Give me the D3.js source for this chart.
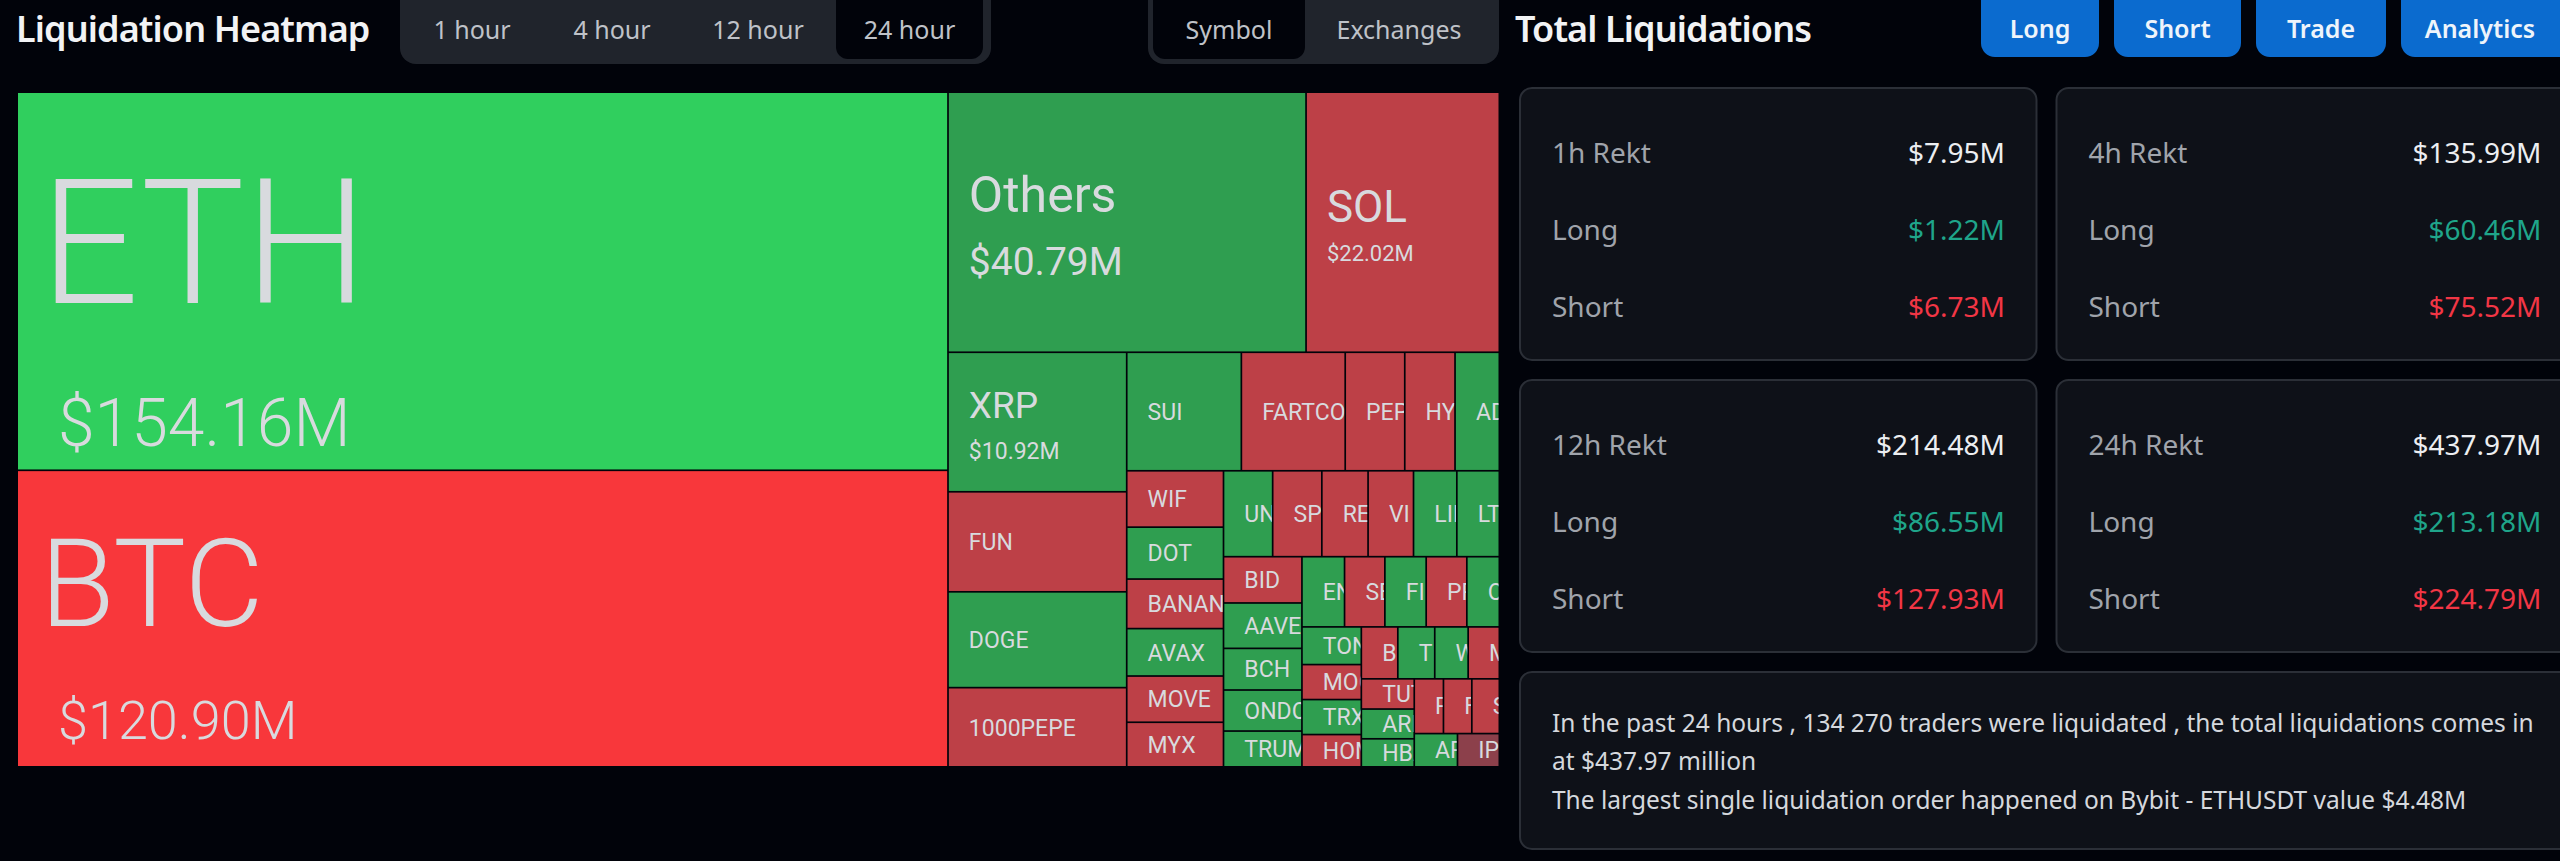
<!DOCTYPE html>
<html>
<head>
<meta charset="utf-8">
<title>Liquidation Heatmap</title>
<script src="https://cdn.jsdelivr.net/npm/d3@7"></script>
<style>
    html, body { margin: 0; background: #01030a; overflow: hidden; }
    svg { display: block; }
    text { font-family: "Noto Sans", sans-serif; }
    .cell-label { font-family: Roboto, sans-serif; fill: #d8dade; }
</style>
</head>
<body>
<svg id="page" width="2560" height="861"></svg>
<script>
// Each strip is carved off what is left of the treemap, alternating left column / top row
const symbolStrips = [
    ['ETH', 'BTC'],
    ['Others', 'SOL'],
    ['XRP', 'FUN', 'DOGE', '1000PEPE'],
    ['SUI', 'FARTCO', 'PEP', 'HY', 'AD'],
    ['WIF', 'DOT', 'BANANA', 'AVAX', 'MOVE', 'MYX'],
    ['UN', 'SP', 'RE', 'VI', 'LIN', 'LT'],
    ['BID', 'AAVE', 'BCH', 'ONDO', 'TRUMP'],
    ['ENA', 'SEI', 'FI', 'PRI', 'OP'],
    ['TON', 'MOG', 'TRX', 'HOM'],
    ['B', 'TI', 'WL', 'ME'],
    ['TUT', 'ARI', 'HBA'],
    ['P', 'F', 'S'],
    ['AP', 'IP']
];
const valueStrips = [
    [154.16, 120.90],
    [40.79, 22.02],
    [10.92, 7.83, 7.50, 6.20],
    [5.95, 5.39, 3.09, 2.61, 2.30],
    [2.39, 2.20, 2.10, 2.01, 1.96, 1.89],
    [1.85, 1.85, 1.74, 1.71, 1.63, 1.60],
    [1.59, 1.56, 1.43, 1.41, 1.23],
    [1.31, 1.24, 1.27, 1.25, 1.00],
    [0.98, 0.91, 0.91, 0.84],
    [0.83, 0.84, 0.76, 0.71],
    [0.70, 0.69, 0.65],
    [0.70, 0.68, 0.66],
    [0.63, 0.61]
];
const stripIsColumn = [true, false, true, false, true, false, true, false, true, false, true, false, false];

const longHeavy = ['ETH', 'Others', 'XRP', 'DOGE', 'SUI', 'AD', 'DOT', 'AVAX', 'UN', 'LIN', 'LT',
    'AAVE', 'BCH', 'ONDO', 'TRUMP', 'ENA', 'FI', 'OP', 'TON', 'TRX', 'TI', 'WL', 'ARI', 'HBA', 'AP'];
const balanced = ['IP'];

const timeframes = ['1 hour', '4 hour', '12 hour', '24 hour'];
const viewModes = ['Symbol', 'Exchanges'];
const actions = ['Long', 'Short', 'Trade', 'Analytics'];

const rektLabels = ['1h Rekt', '4h Rekt', '12h Rekt', '24h Rekt'];
const rektTotals = ['$7.95M', '$135.99M', '$214.48M', '$437.97M'];
const rektLongs = ['$1.22M', '$60.46M', '$86.55M', '$213.18M'];
const rektShorts = ['$6.73M', '$75.52M', '$127.93M', '$224.79M'];

const summaryLines = [
    'In the past 24 hours , 134 270 traders were liquidated , the total liquidations comes in',
    'at $437.97 million',
    'The largest single liquidation order happened on Bybit - ETHUSDT value $4.48M'
];

// Big cells carry their amount as well, offsets are from the cell centre
const bigLabels = {
    ETH: { size: 174, dy: -41, amountSize: 66, amountDy: 141, dx: 22, amountDx: 40 },
    BTC: { size: 122, dy: -36, amountSize: 54, amountDy: 101, dx: 22, amountDx: 40 },
    Others: { size: 50, dy: -28, amountSize: 39, amountDy: 39, dx: 20, amountDx: 20 },
    SOL: { size: 44, dy: -16, amountSize: 22, amountDy: 31, dx: 20, amountDx: 20 },
    XRP: { size: 37, dy: -17, amountSize: 23, amountDy: 29, dx: 20, amountDx: 20 }
};

const colors = {
    ethGreen: '#30cf5e',
    btcRed: '#f8373b',
    green: '#2f9e50',
    red: '#bd4047',
    muted: '#8c404b',
    panel: '#20242c',
    tabActive: '#01030a',
    card: '#0e1118',
    cardBorder: '#2b2f37',
    button: '#0b6bcf',
    grey: '#a0a4ab',
    long: '#1fa58a',
    short: '#f23645'
};

const svg = d3.select('#page');

// Treemap
const treemapBox = { x: 18, y: 93, width: 1480.5, height: 673 };

function buildTree(index) {
    const strip = {
        isColumn: stripIsColumn[index],
        isStrip: true,
        children: symbolStrips[index].map((name, i) => ({ name: name, value: valueStrips[index][i] }))
    };
    if (index === symbolStrips.length - 1) return strip;
    return { isColumn: stripIsColumn[index], children: [strip, buildTree(index + 1)] };
}

function tile(node, x0, y0, x1, y1) {
    // a strip stacks its cells along its length, a split lays strip and rest across
    const useDice = node.data.isStrip ? !node.data.isColumn : node.data.isColumn;
    (useDice ? d3.treemapDice : d3.treemapSlice)(node, x0, y0, x1, y1);
}

const root = d3.hierarchy(buildTree(0)).sum(d => d.value || 0);
d3.treemap()
    .size([treemapBox.width, treemapBox.height])
    .paddingInner(1.7)
    .round(false)
    .tile(tile)(root);

function cellColor(name) {
    if (name === 'ETH') return colors.ethGreen;
    if (name === 'BTC') return colors.btcRed;
    if (balanced.includes(name)) return colors.muted;
    return longHeavy.includes(name) ? colors.green : colors.red;
}

const treemapGroup = svg.append('g')
    .attr('transform', `translate(${treemapBox.x},${treemapBox.y})`);

const cells = treemapGroup.selectAll('g.cell')
    .data(root.leaves())
    .join('g')
    .attr('class', 'cell')
    .attr('transform', d => `translate(${d.x0},${d.y0})`);

cells.append('clipPath')
    .attr('id', (d, i) => `cell-clip-${i}`)
    .append('rect')
    .attr('width', d => d.x1 - d.x0)
    .attr('height', d => d.y1 - d.y0);

cells.append('rect')
    .attr('width', d => d.x1 - d.x0)
    .attr('height', d => d.y1 - d.y0)
    .attr('fill', d => cellColor(d.data.name));

cells.each(function(d, i) {
    const cell = d3.select(this).append('g').attr('clip-path', `url(#cell-clip-${i})`);
    const big = bigLabels[d.data.name];
    const centerY = (d.y1 - d.y0) / 2;
    cell.append('text')
        .attr('class', 'cell-label')
        .attr('x', big ? big.dx : 20)
        .attr('y', centerY + (big ? big.dy : 0))
        .attr('dy', '0.36em')
        .attr('font-size', big ? big.size : 23)
        .attr('font-weight', big && big.size > 100 ? 300 : 400)
        .text(d.data.name);
    if (big) {
        cell.append('text')
            .attr('class', 'cell-label')
            .attr('x', big.amountDx)
            .attr('y', centerY + big.amountDy)
            .attr('dy', '0.36em')
            .attr('font-size', big.amountSize)
            .attr('font-weight', big.amountSize > 50 ? 300 : 400)
            .text(`$${d.data.value.toFixed(2)}M`);
    }
});

// Headers
function title(x, text) {
    svg.append('text')
        .attr('x', x)
        .attr('y', 42)
        .attr('font-family', 'Inter, sans-serif')
        .attr('font-size', 36)
        .attr('font-weight', 600)
        .attr('letter-spacing', -0.9)
        .attr('fill', '#f2f3f5')
        .text(text);
}
title(16, 'Liquidation Heatmap');
title(1515, 'Total Liquidations');

function tabBar(box, labels, activeIndex, tabBoxes) {
    svg.append('rect')
        .attr('x', box.x).attr('y', -20)
        .attr('width', box.width).attr('height', box.height + 20)
        .attr('rx', 16)
        .attr('fill', colors.panel);
    const active = tabBoxes[activeIndex];
    svg.append('rect')
        .attr('x', active.x).attr('y', -20)
        .attr('width', active.width).attr('height', active.height + 20)
        .attr('rx', 12)
        .attr('fill', colors.tabActive);
    svg.selectAll(null)
        .data(labels)
        .join('text')
        .attr('x', (d, i) => tabBoxes[i].x + tabBoxes[i].width / 2)
        .attr('y', 30)
        .attr('dy', '0.36em')
        .attr('text-anchor', 'middle')
        .attr('font-size', 25)
        .attr('fill', '#bfc2c8')
        .text(d => d);
}

tabBar({ x: 400, width: 591, height: 64 }, timeframes, 3, [
    { x: 402, width: 140, height: 59 },
    { x: 542, width: 140, height: 59 },
    { x: 688, width: 140, height: 59 },
    { x: 836, width: 147, height: 59 }
]);
tabBar({ x: 1148, width: 351, height: 64 }, viewModes, 0, [
    { x: 1153, width: 152, height: 59 },
    { x: 1310, width: 178, height: 59 }
]);

// Action buttons
const buttonBoxes = [
    { x: 1981, width: 118 },
    { x: 2114, width: 127 },
    { x: 2256, width: 130 },
    { x: 2401, width: 190 }
];
svg.selectAll('rect.action')
    .data(actions)
    .join('rect')
    .attr('class', 'action')
    .attr('x', (d, i) => buttonBoxes[i].x)
    .attr('y', -20)
    .attr('width', (d, i) => buttonBoxes[i].width)
    .attr('height', 77)
    .attr('rx', 14)
    .attr('fill', colors.button);
svg.selectAll('text.action')
    .data(actions)
    .join('text')
    .attr('class', 'action')
    .attr('x', (d, i) => i === 3 ? 2480 : buttonBoxes[i].x + buttonBoxes[i].width / 2)
    .attr('y', 29)
    .attr('dy', '0.36em')
    .attr('text-anchor', 'middle')
    .attr('font-size', 25)
    .attr('font-weight', 600)
    .attr('fill', '#eef4fb')
    .text(d => d);

// Stat cards
const cardX = [1520, 2056.5];
const cardY = [88, 380];
const cardWidth = 516.5;
const cardHeight = 272;
const rowOffsets = [65, 142, 219];

function card(x, y, width, height) {
    svg.append('rect')
        .attr('x', x).attr('y', y)
        .attr('width', width).attr('height', height)
        .attr('rx', 12)
        .attr('fill', colors.card)
        .attr('stroke', colors.cardBorder)
        .attr('stroke-width', 2);
}

function statRow(x, y, label, value, valueColor) {
    svg.append('text')
        .attr('x', x + 32).attr('y', y)
        .attr('dy', '0.36em')
        .attr('font-size', 28)
        .attr('fill', colors.grey)
        .text(label);
    svg.append('text')
        .attr('x', x + 485).attr('y', y)
        .attr('dy', '0.36em')
        .attr('text-anchor', 'end')
        .attr('font-size', 28)
        .attr('fill', valueColor)
        .text(value);
}

rektLabels.forEach((label, i) => {
    const x = cardX[i % 2];
    const y = cardY[Math.floor(i / 2)];
    card(x, y, cardWidth, cardHeight);
    statRow(x, y + rowOffsets[0], label, rektTotals[i], '#eceef1');
    statRow(x, y + rowOffsets[1], 'Long', rektLongs[i], colors.long);
    statRow(x, y + rowOffsets[2], 'Short', rektShorts[i], colors.short);
});

// Summary
card(1520, 672, 1060, 177);
svg.selectAll('text.summary')
    .data(summaryLines)
    .join('text')
    .attr('class', 'summary')
    .attr('x', 1552)
    .attr('y', (d, i) => 723 + i * 38.5)
    .attr('dy', '0.36em')
    .attr('font-size', 24.5)
    .attr('fill', '#d5d8dd')
    .text(d => d);
</script>
</body>
</html>
